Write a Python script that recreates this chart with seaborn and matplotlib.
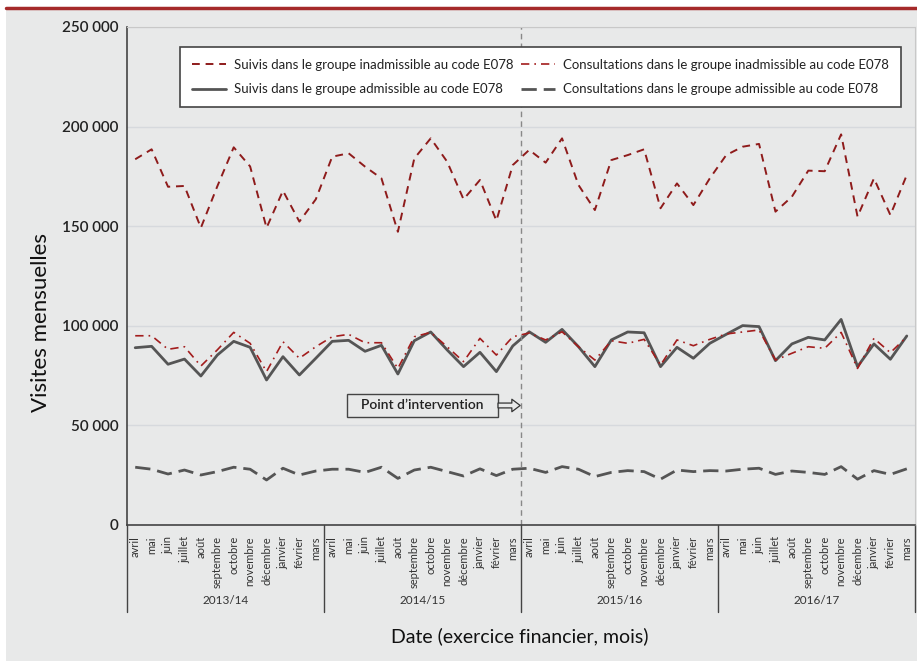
import numpy as np
import pandas as pd
import seaborn as sns
import matplotlib.pyplot as plt
from matplotlib.patches import Rectangle
from matplotlib.transforms import blended_transform_factory

# exercices financiers et mois
exercices = ["2013/14", "2014/15", "2015/16", "2016/17"]
mois = ["avril", "mai", "juin", "juillet", "août", "septembre", "octobre",
        "novembre", "décembre", "janvier", "février", "mars"]

suivis_inadm = [
    183600, 188600, 169800, 170200, 149200, 170000, 189600, 180000, 149200, 167800, 152300, 163500,
    184900, 186600, 179900, 174000, 147200, 184000, 194100, 182400, 163500, 173200, 152800, 180700,
    188300, 181900, 194100, 170700, 158100, 183200, 185700, 188600, 159000, 171500, 160600, 174000,
    185700, 189900, 191300, 157300, 164800, 177900, 177600, 196100, 154800, 174000, 155600, 175700,
]
consult_inadm = [
    95000, 95000, 88200, 89500, 79800, 87900, 96700, 91200, 77000, 92000, 83700, 89500,
    94500, 95700, 91500, 91500, 78600, 94500, 96700, 89500, 82000, 93700, 85300, 94500,
    96400, 92900, 97000, 89500, 82800, 92500, 91200, 93200, 80300, 92900, 90000, 93200,
    95900, 96900, 97900, 82800, 86200, 89500, 88700, 96700, 78600, 93700, 86500, 94500,
]
suivis_adm = [
    89000, 89700, 80700, 83300, 74800, 85300, 92200, 89200, 72800, 84500, 75300, 83700,
    92200, 92700, 87200, 90200, 75800, 92500, 96900, 87900, 79500, 86700, 77000, 89900,
    97000, 91700, 98200, 89500, 79500, 92900, 96900, 96500, 79500, 89200, 83700, 91200,
    95700, 100100, 99600, 82500, 90900, 94200, 92900, 103200, 79500, 90900, 83200, 94900,
]
consult_adm = [
    29000, 28000, 25600, 27600, 25100, 26800, 29000, 28000, 22600, 28500, 25100, 27100,
    28000, 28000, 26400, 29000, 23400, 27600, 29000, 26800, 24600, 28200, 24800, 28000,
    28500, 26400, 29300, 28000, 24300, 26400, 27300, 26800, 23000, 27600, 26800, 27300,
    27100, 28000, 28500, 25400, 27100, 26400, 25400, 29300, 23000, 27300, 25400, 28200,
]

labels = {
    "suivis_inadm": "Suivis dans le groupe inadmissible au code E078",
    "suivis_adm": "Suivis dans le groupe admissible au code E078",
    "consult_inadm": "Consultations dans le groupe inadmissible au code E078",
    "consult_adm": "Consultations dans le groupe admissible au code E078",
}

n = len(exercices) * len(mois)
df = pd.DataFrame({
    "pos": np.arange(n),
    "exercice": np.repeat(exercices, len(mois)),
    "mois": mois * len(exercices),
    "suivis_inadm": suivis_inadm,
    "consult_inadm": consult_inadm,
    "suivis_adm": suivis_adm,
    "consult_adm": consult_adm,
})

bg = "#e8e9e9"
rouge = "#8e1b1b"
gris = "#555555"

sns.set_style("white")
plt.rcParams["font.family"] = ["Lato", "DejaVu Sans"]

fig = plt.figure(figsize=(9.17, 6.61), dpi=100, facecolor="white")
fig.patches.append(Rectangle((6 / 917, 0), 1, 1 - 10 / 661, transform=fig.transFigure,
                             facecolor=bg, edgecolor="none", zorder=-10))
fig.lines.append(plt.Line2D([6 / 917, 1], [1 - 8 / 661, 1 - 8 / 661], transform=fig.transFigure,
                            color="#a52a2a", lw=2.5))

ax = fig.add_axes([127 / 917, 1 - 525 / 661, 788 / 917, 498 / 661])
ax.set_facecolor(bg)

styles = [
    ("suivis_inadm", rouge, 1.4, (4, 3)),
    ("suivis_adm", gris, 2.0, None),
    ("consult_inadm", "#a31d1d", 1.2, (5, 3, 1, 3)),
    ("consult_adm", gris, 2.0, (5.5, 2.5)),
]
for col, c, lw, dash in styles:
    sns.lineplot(data=df, x="pos", y=col, ax=ax, color=c, lw=lw, label=labels[col])
    if dash is not None:
        ax.lines[-1].set_dashes(dash)

ax.set_xlim(-0.5, n - 0.5)
ax.set_ylim(0, 250000)
ax.set_yticks(np.arange(0, 250001, 50000))
ax.set_yticklabels([f"{v:,}".replace(",", " ") for v in range(0, 250001, 50000)],
                   fontsize=11, color="#222", fontweight="semibold")
ax.set_xticks(df["pos"])
ax.set_xticklabels(df["mois"], rotation=90, fontsize=8, color="#333", va="top")
ax.tick_params(axis="both", length=0)
ax.tick_params(axis="x", pad=8)
ax.tick_params(axis="y", pad=6)
ax.grid(axis="y", color="#d6d9dd", lw=1)
ax.set_axisbelow(True)
for s in ["top", "right"]:
    ax.spines[s].set_color("#c8c8c8")
    ax.spines[s].set_linewidth(0.8)
for s in ["left", "bottom"]:
    ax.spines[s].set_color("#444")
    ax.spines[s].set_linewidth(1.2)

ax.set_xlabel("Date (exercice financier, mois)", fontsize=14, color="#111")
ax.set_ylabel("Visites mensuelles", fontsize=16, color="#111")
ax.xaxis.set_label_coords(0.4987, -0.205)
ax.yaxis.set_label_coords(-0.097, 0.406)

# groupes d'exercices sous l'axe
trans = blended_transform_factory(ax.transData, ax.transAxes)
for i, ex in enumerate(exercices):
    ax.text(i * 12 + 5.5, -0.152, ex, transform=trans, ha="center", va="center",
            fontsize=8.5, color="#333")
for i in range(len(exercices) + 1):
    ax.plot([i * 12 - 0.5] * 2, [0, -0.175], transform=trans, color="#444", lw=1, clip_on=False)

# point d'intervention
ax.axvline(23.5, color="#888", lw=1, ls=(0, (4, 3)))
ax.add_patch(Rectangle((12.9, 54200), 9.2, 11600, fc=bg, ec="#444", lw=1, zorder=3))
ax.text(17.5, 60000, "Point d\u2019intervention", ha="center", va="center", fontsize=10,
        color="#222", fontweight="semibold", zorder=4)
ax.annotate("", xy=(23.45, 60000), xytext=(22.1, 60000),
            arrowprops=dict(arrowstyle="simple,head_width=0.9,head_length=0.6,tail_width=0.35",
                            fc=bg, ec="#333", lw=0.9, shrinkA=0, shrinkB=0), zorder=4)

leg = ax.legend(ncol=2, loc="lower left", bbox_to_anchor=(0.067, 0.839, 0.915, 0.123),
                mode="expand", borderaxespad=0, frameon=True, fancybox=False, framealpha=1,
                fontsize=9.5, handlelength=2.6, handletextpad=0.6, borderpad=0.9,
                labelspacing=0.95, columnspacing=1.0)
leg.get_frame().set_edgecolor("#444")
leg.get_frame().set_linewidth(1.2)
for t in leg.get_texts():
    t.set_color("#222")

fig.savefig("out.png", dpi=100, facecolor=fig.get_facecolor())
